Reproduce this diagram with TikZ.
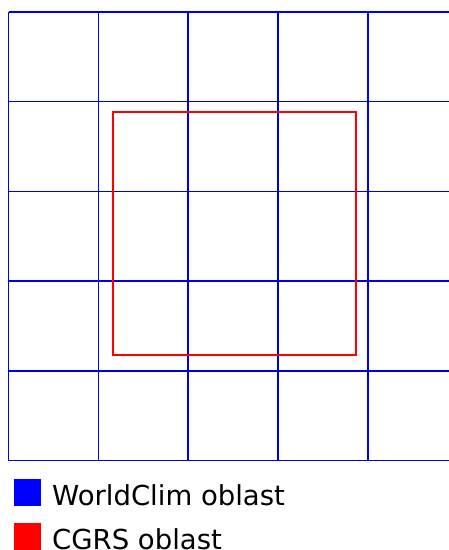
\documentclass[tikz,border=0pt]{standalone}
\usepackage{fontspec}
\setmainfont{DejaVu Sans}
\begin{document}
\begin{tikzpicture}[x=1pt,y=-1pt,
  gridline/.style={draw={rgb,255:red,0;green,0;blue,230},line width=1.5pt},
  cgrs/.style={draw={rgb,255:red,255;green,0;blue,0},line width=1.8pt},
  legbox/.style={minimum width=27pt,minimum height=27pt,inner sep=0pt,outer sep=0pt},
  legtext/.style={anchor=base west,inner sep=0pt,font=\fontsize{27.5}{30}\selectfont}]
\useasboundingbox (0,0) rectangle (449,550);
\clip (0,0) rectangle (449,550);
% WorldClim grid
\foreach \i in {0,...,5} {
  \draw[gridline] (8.5+89.85*\i,12) -- (8.5+89.85*\i,460.5);
  \draw[gridline] (8.5,12+89.7*\i) -- (470,12+89.7*\i);
}
% CGRS area
\draw[cgrs] (112.8,112) rectangle (355.8,354.6);
% legend
\node[legbox,fill={rgb,255:red,0;green,0;blue,255},anchor=north west] (lb) at (14,479) {};
\node[legbox,fill={rgb,255:red,255;green,0;blue,0},anchor=north west] (lr) at (14,523) {};
\node[legtext] (tb) at (52,505) {WorldClim oblast};
\node[legtext] (tr) at (52,549) {CGRS oblast};
\end{tikzpicture}
\end{document}
